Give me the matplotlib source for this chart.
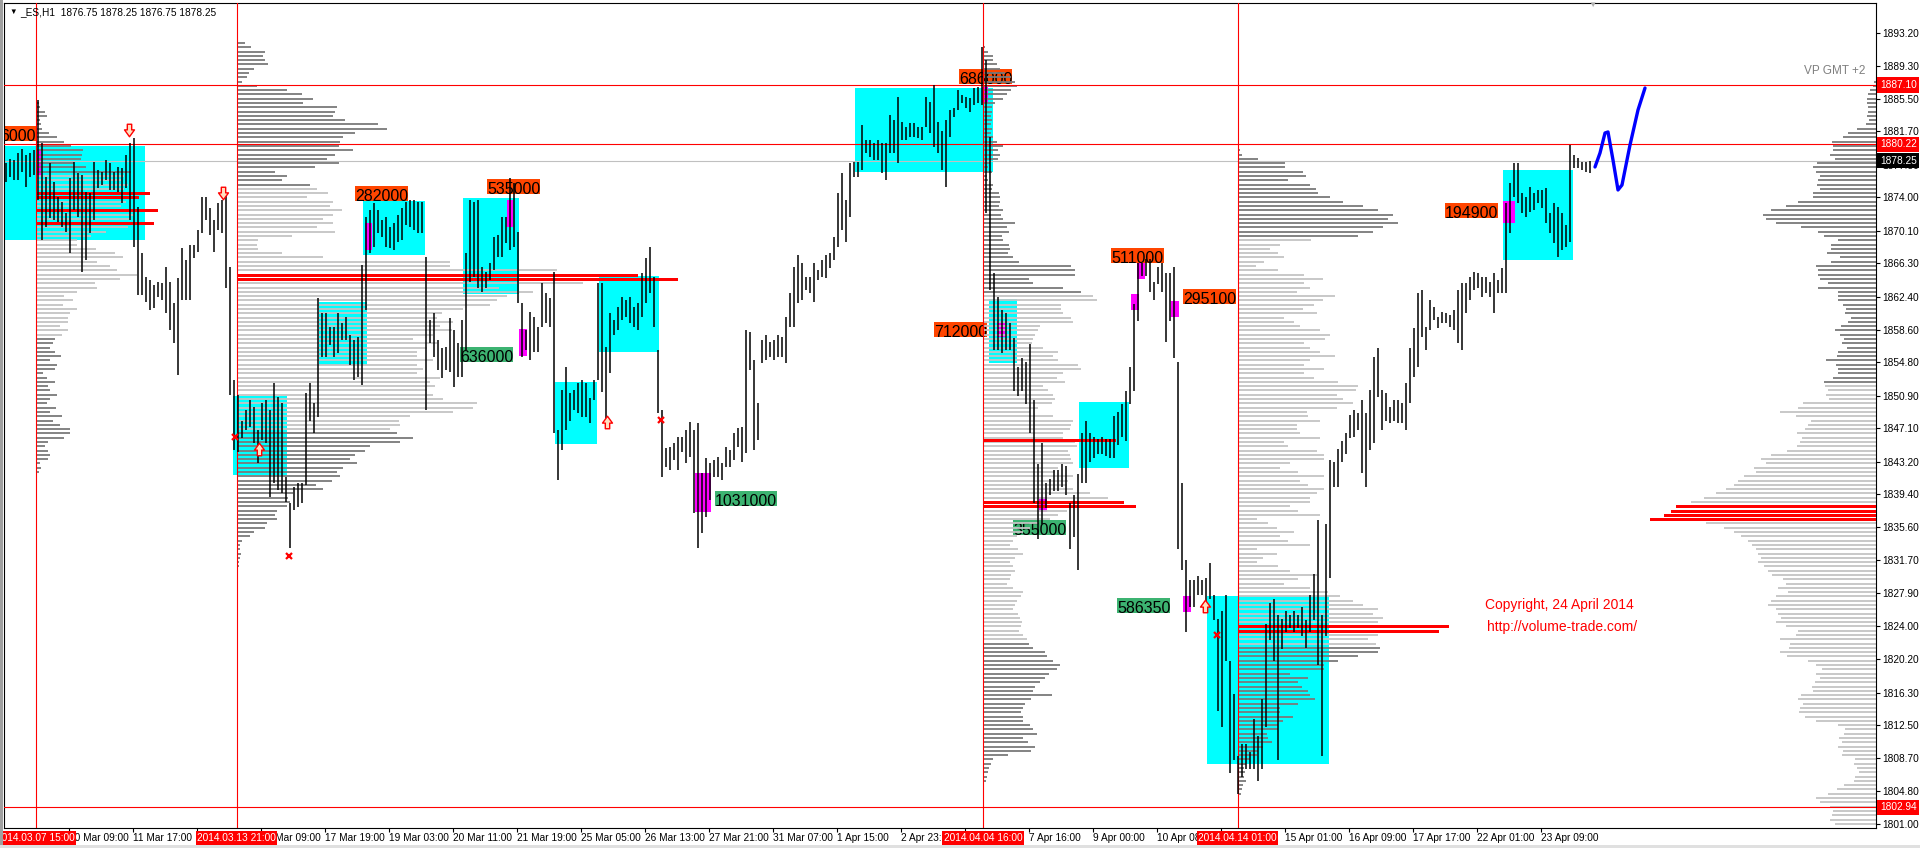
import numpy as np
import matplotlib
matplotlib.use("Agg")
import matplotlib.pyplot as plt
from matplotlib.patches import Rectangle
from matplotlib.path import Path

plt.rcParams['font.family'] = ['Liberation Sans', 'DejaVu Sans']

# ---------------------------------------------------------------- data
# 2-hour price bars (high / low), _ES H1 chart, 7 Mar - 24 Apr 2014
bar_high = [
 1878.0,1878.5,1878.4,1879.2,1879.7,1878.9,1879.2,1879.5,1885.3,1880.4,
 1876.4,1878.0,1875.8,1874.0,1873.5,1872.2,1876.3,1878.1,1876.8,1876.6,
 1874.6,1874.5,1878.1,1877.2,1877.0,1878.4,1878.0,1877.0,1877.5,1877.4,
 1878.9,1880.4,1880.9,1872.9,1867.5,1864.7,1864.4,1863.8,1864.1,1864.0,
 1865.9,1864.1,1861.7,1864.6,1868.1,1866.7,1868.4,1868.4,1870.2,1874.0,
 1874.0,1872.8,1871.4,1873.3,1873.7,1874.3,1865.9,1852.7,1851.0,1848.0,
 1849.2,1850.4,1849.6,1846.9,1850.0,1850.4,1849.2,1852.4,1850.7,1850.0,
 1841.4,1838.4,1840.2,1840.7,1840.7,1851.2,1852.4,1850.0,1862.3,1860.5,
 1860.5,1858.9,1858.9,1860.5,1859.4,1860.1,1858.0,1857.4,1857.7,1866.1,
 1871.7,1872.5,1873.3,1872.5,1871.4,1871.7,1870.5,1871.0,1871.9,1872.8,
 1873.5,1873.7,1873.7,1873.5,1873.5,1867.0,1859.7,1860.5,1857.4,1856.4,
 1856.6,1859.9,1858.5,1857.0,1859.7,1867.5,1873.7,1873.5,1873.7,1865.9,
 1865.3,1866.3,1869.4,1869.6,1871.7,1871.7,1876.3,1875.7,1870.0,1861.7,
 1858.5,1860.6,1860.1,1858.9,1864.0,1862.9,1862.3,1865.3,1846.9,1851.5,
 1854.2,1851.2,1851.5,1852.4,1852.7,1852.4,1850.6,1852.7,1864.0,1864.0,
 1856.6,1860.5,1859.7,1861.2,1862.4,1862.0,1862.4,1861.2,1861.7,1865.2,
 1866.9,1868.2,1864.7,1856.2,1849.2,1844.8,1844.9,1845.4,1846.1,1846.1,
 1846.9,1847.8,1846.9,1847.7,1841.9,1843.6,1843.0,1843.4,1843.7,1843.0,
 1844.9,1844.6,1846.6,1847.1,1847.2,1858.5,1858.3,1855.0,1850.1,1857.4,
 1858.0,1857.1,1857.4,1858.0,1857.7,1860.1,1862.9,1865.9,1867.3,1866.3,
 1864.7,1864.7,1866.3,1865.5,1866.7,1867.3,1867.5,1869.4,1874.5,1876.8,
 1873.7,1878.0,1878.1,1878.1,1882.4,1880.7,1880.7,1880.4,1880.7,1880.3,
 1880.3,1883.6,1883.0,1885.7,1882.8,1882.2,1882.7,1882.7,1882.2,1882.2,
 1885.7,1885.1,1887.1,1882.8,1881.8,1883.0,1884.2,1884.4,1886.5,1885.9,
 1885.7,1885.6,1886.7,1886.9,1891.5,1890.0,1881.0,1865.2,1862.4,1860.9,
 1860.5,1859.4,1857.6,1854.2,1855.3,1854.8,1856.9,1850.4,1842.9,1845.4,
 1840.7,1841.2,1842.2,1842.2,1842.9,1842.7,1838.4,1839.3,1841.8,1846.5,
 1848.0,1846.5,1846.1,1845.8,1846.1,1845.8,1845.8,1848.5,1849.0,1849.9,
 1851.4,1854.2,1861.6,1866.3,1866.3,1866.8,1866.8,1864.1,1865.9,1866.3,
 1865.2,1865.2,1865.9,1854.8,1840.7,1831.8,1829.4,1829.4,1829.9,1829.4,
 1829.6,1831.4,1827.7,1824.9,1825.8,1827.7,1820.0,1816.1,1808.9,1810.3,
 1810.3,1809.4,1813.2,1811.2,1815.6,1824.3,1826.7,1827.2,1825.3,1824.9,
 1825.8,1825.3,1825.8,1825.3,1826.3,1824.7,1827.7,1830.1,1836.4,1825.3,
 1835.9,1843.4,1843.2,1844.7,1845.6,1846.5,1848.6,1849.2,1848.9,1850.4,
 1848.9,1851.5,1855.4,1856.4,1851.5,1851.2,1849.6,1850.4,1850.4,1850.0,
 1852.4,1856.4,1858.8,1862.9,1863.2,1858.9,1862.0,1861.2,1860.1,1860.6,
 1860.5,1860.3,1860.9,1863.2,1864.0,1864.0,1864.7,1865.3,1865.2,1864.7,
 1864.7,1864.1,1865.2,1864.4,1865.8,1873.3,1875.7,1878.0,1878.0,1874.5,
 1874.0,1875.2,1874.5,1874.9,1874.9,1875.1,1872.2,1873.3,1872.9,1872.2,
 1870.8,1880.1,1878.9,1878.6,1878.1,1878.1,1878.25]
bar_low = [
 1875.8,1876.4,1876.0,1876.0,1877.0,1875.2,1876.4,1876.6,1873.7,1869.0,
 1870.5,1871.6,1871.4,1871.1,1870.5,1870.0,1867.5,1872.5,1871.7,1865.3,
 1866.7,1869.8,1871.4,1875.1,1875.4,1876.0,1874.9,1874.9,1874.6,1873.3,
 1875.1,1871.4,1868.2,1862.6,1862.6,1861.8,1860.9,1861.1,1862.4,1862.0,
 1860.5,1858.5,1857.0,1853.3,1862.0,1862.0,1862.0,1866.9,1867.6,1869.8,
 1871.4,1869.6,1867.6,1870.2,1869.8,1863.4,1851.0,1844.6,1844.3,1846.0,
 1846.9,1847.2,1845.4,1843.0,1845.7,1845.4,1839.1,1840.7,1839.9,1839.5,
 1838.5,1833.2,1837.6,1837.9,1838.4,1840.5,1848.0,1846.6,1848.4,1855.4,
 1855.4,1856.8,1855.4,1855.9,1857.4,1857.4,1854.5,1852.7,1853.1,1852.1,
 1860.9,1867.5,1868.2,1869.8,1869.4,1868.2,1868.1,1867.9,1868.8,1869.0,
 1870.8,1870.5,1870.2,1869.8,1869.8,1849.2,1857.0,1855.4,1853.9,1852.9,
 1853.9,1853.6,1851.9,1853.1,1853.1,1856.2,1864.1,1864.7,1863.5,1863.0,
 1863.5,1864.4,1865.5,1867.0,1867.0,1868.7,1867.9,1868.2,1861.7,1855.4,
 1856.2,1855.0,1856.0,1856.0,1858.9,1859.4,1858.9,1846.5,1841.1,1844.6,
 1846.9,1848.0,1849.2,1848.9,1848.4,1848.4,1847.7,1850.4,1852.7,1851.3,
 1847.2,1853.5,1858.0,1858.5,1859.7,1860.1,1859.4,1858.9,1858.5,1860.1,
 1861.7,1862.9,1858.9,1848.9,1841.4,1842.6,1842.2,1843.4,1842.2,1844.3,
 1843.0,1843.7,1837.2,1833.2,1834.9,1836.7,1838.7,1841.4,1841.4,1841.1,
 1842.6,1842.6,1843.4,1844.9,1843.2,1844.2,1853.9,1844.6,1845.7,1854.7,
 1855.0,1855.4,1855.0,1855.4,1855.4,1854.7,1858.9,1858.9,1861.7,1862.0,
 1863.2,1862.9,1861.8,1864.4,1864.7,1864.6,1865.8,1866.7,1868.2,1870.2,
 1868.8,1871.7,1876.4,1876.4,1877.2,1879.2,1878.7,1878.4,1878.4,1876.8,
 1876.0,1879.2,1879.2,1878.0,1880.7,1880.7,1881.0,1881.0,1880.9,1880.7,
 1882.2,1881.5,1879.9,1879.2,1877.2,1875.2,1881.0,1883.4,1884.2,1885.0,
 1884.4,1883.9,1884.8,1885.0,1884.8,1872.2,1863.2,1856.2,1856.2,1855.9,
 1856.2,1856.2,1851.4,1850.8,1851.4,1849.9,1846.5,1838.4,1834.2,1835.9,
 1837.8,1839.3,1839.8,1839.8,1840.2,1839.3,1833.0,1834.4,1830.6,1840.7,
 1840.7,1843.2,1843.6,1844.1,1844.1,1843.9,1843.6,1843.6,1845.1,1846.1,
 1845.6,1849.9,1851.4,1859.6,1864.9,1864.9,1863.0,1862.0,1863.9,1863.0,
 1857.1,1859.6,1855.3,1833.0,1830.6,1823.3,1826.3,1826.3,1827.7,1827.7,
 1826.7,1827.2,1824.7,1814.1,1812.3,1820.0,1806.9,1808.4,1804.5,1806.4,
 1807.4,1807.4,1807.4,1806.0,1807.4,1812.3,1822.4,1820.0,1808.4,1821.4,
 1823.3,1823.8,1823.3,1823.8,1822.9,1821.5,1823.3,1824.7,1819.5,1808.9,
 1822.9,1829.6,1840.2,1840.2,1843.2,1844.1,1846.0,1846.1,1846.9,1841.9,
 1840.2,1844.6,1845.4,1850.7,1846.9,1848.0,1847.7,1848.0,1847.7,1847.7,
 1846.9,1850.0,1853.1,1854.2,1857.7,1856.2,1858.5,1859.7,1858.8,1859.4,
 1859.4,1858.9,1858.5,1857.0,1856.2,1860.5,1862.0,1863.2,1863.5,1862.4,
 1862.9,1862.4,1860.5,1862.9,1862.9,1862.9,1869.8,1874.0,1873.3,1872.2,
 1871.7,1872.3,1872.5,1873.3,1872.8,1871.0,1869.8,1868.7,1867.0,1867.9,
 1868.2,1868.8,1877.4,1877.4,1877.2,1877.0,1876.8]

# volume profiles: volume per 0.5-point level, from top price downwards
vp1_anchor, vp1_top = 15.75, 1885.5
vp1_vol = [1,3,4,9,11,4,5,6,13,21, 28,35,47,46,45,38,50,95,88,85,
           92,88,113,102,90,85,121,98,95,117, 92,70,55,41,41,60,79,87,61,74,
           81,101,84,59,61,41,28,37,27,41, 34,32,32,24,32,26,19,17,14,19,
           25,14,21,19,7,11,19,12,14,21, 14,11,20,14,26,17,24,34,34,28,
           12,9,12,14,12,4,5,3,1]
vp1_dark = [(1877.0, 1890.0), (1830.0, 1857.5)]
vp1_poc = [1874.5, 1874.0, 1872.5, 1871.0]

vp2_anchor, vp2_top = 116.25, 1892.0
vp2_vol = [8,14,28,26,28,31,17,12,10,5, 20,50,65,76,66,100,98,96,108,141,
           150,118,106,103,102,116,98,90,102,78, 38,50,45,73,80,91,70,96,93,105,
           96,86,96,80,98,55,21,20,21,45, 86,213,213,320,400,440,346,262,296,270,
           260,253,226,205,200,216,203,215,196,176, 200,190,180,180,196,180,186,180,203,193,
           198,190,196,206,240,236,216,173,162,163, 153,160,176,163,133,128,118,113,120,106,
           100,103,95,79,86,56,51,53,50,40, 38,40,30,28,17,13,5,3,3,4, 3,2,2]
vp2_dark = [(1875.5, 1895.0), (1820.0, 1846.5)]
vp2_poc = [1865.0, 1864.5]

vp3_anchor, vp3_top = 489.6, 1891.5
vp3_vol = [2,5,10,10,14,17,22,28,32,34, 28,24,20,12,9,9,8,9,8,9,
           8,10,14,20,15,17,15,7,5,9, 4,5,10,9,16,17,17,16,20,18,
           20,32,24,26,19,20,26,27,25,30, 36,88,92,92,46,50,80,98,110,114,
           78,78,80,88,90,57,55,52,50,49, 60,75,70,75,95,98,80,74,82,60,
           65,70,72,69,55,47,70,90,88,87, 80,80,92,94,85,87,88,90,75,72,
           90,85,84,90,107,125,140,152,84,75, 67,55,47,40,34,30,27,35,40,32,
           27,30,32,28,27,24,30,40,38,34, 32,30,35,37,39,38,36,40,44,46,
           50,62,64,70,77,74,66,62,57,52, 50,69,48,42,40,38,40,40,47,50,
           54,40,45,52,48,25,10,8,6,5, 4,3]
vp3_dark = [(1863.0, 1895.0), (1800.0, 1822.0)]
vp3_poc = [1838.5, 1838.0]
vp3_extra_level = (1845.7, 489.6, 555.5)

vp4_anchor, vp4_top = 616.75, 1879.5
vp4_vol = [2,4,20,47,47,65,68,50,72,78, 80,92,105,125,140,155,150,160,145,135,
           120,73,42,32,40,46,26,18,40,66, 85,66,72,59,97,85,76,65,79,46,
           56,62,82,92,87,66,72,82,97,72, 66,86,66,76,100,120,118,99,105,115,
           99,69,70,82,59,59,62,82,46,50, 79,86,86,52,42,60,86,62,70,86,
           79,72,72,52,60,82,19,30,39,56, 42,50,72,19,39,25,19,40,52,79,
           60,46,72,90,102,115,125,140,135,145, 140,210,200,140,130,138,142,140,120,100,
           86,86,52,70,60,64,70,72,77,60, 42,42,55,45,40,40,29,30,34,25,
           20,19,12,8,6,7,6,8,5,4, 3]
vp4_dark = [(1869.5, 1895.0), (1800.0, 1821.5)]
vp4_poc = [1824.0, 1823.5]

vp5_top = 1887.5          # anchored on the right edge, grows leftwards
vp5_vol = [2,3,6,8,9,9,8,8,9,7, 10,19,28,33,44,43,43,46,41,59,
           63,60,56,58,59,56,63,63,78,90, 105,113,110,100,75,58,52,38,45,45,
           49,36,45,60,58,58,56,48,58,38, 38,38,33,30,31,25,28,35,41,36,
           32,34,29,38,39,50,40,38,38,43, 52,51,48,50,47,73,78,96,80,65,
           68,71,79,74,76,79,89,105,115,110, 122,120,132,138,142,150,160,172,185,200,
           205,212,226,170,152,142,135,128,124,120, 118,115,118,112,108,104,93,90,98,88,
           100,105,108,100,98,95,100,90,78,80, 96,86,87,96,89,68,60,54,60,56,
           61,64,63,75,78,73,76,77,71,60, 38,31,32,37,34,38,33,34,21,22,
           19,17,21,22,32,39,48,60,56,46, 43,44,46,41]
vp5_dark = [(1852.5, 1895.0)]
vp5_poc = [1838.0, 1837.5, 1837.0, 1836.5]

# zones (x0, x1 in bars; top, bottom price)
cyan_zones = [(-10, 70.5, 1879.99, 1869.04), (114.5, 141.5, 1850.85, 1841.65),
              (157.5, 181.5, 1861.81, 1854.47), (179.5, 210.5, 1873.58, 1867.29),
              (229.5, 257.5, 1873.93, 1862.74), (275.5, 296.5, 1852.49, 1845.26),
              (297.5, 327.5, 1864.84, 1855.98), (425.5, 494.5, 1886.75, 1876.96),
              (492.5, 506.5, 1862.16, 1854.70), (537.5, 562.5, 1850.16, 1842.46),
              (601.5, 662.5, 1827.54, 1807.97), (749.5, 784.5, 1877.20, 1866.71)]
magenta_zones = [(16, 18.5, 1879.64, 1876.38), (180.5, 184, 1871.02, 1867.87),
                 (251.5, 254.5, 1873.70, 1870.55), (257.5, 261.5, 1858.66, 1855.52),
                 (345.5, 353.5, 1841.88, 1837.34), (489, 492, 1886.87, 1885.01),
                 (496.5, 500.5, 1859.36, 1857.73), (517.5, 521.5, 1839.08, 1837.34),
                 (566.5, 570.5, 1866.36, 1864.49), (563.5, 567.5, 1862.74, 1860.88),
                 (583.5, 587.5, 1861.93, 1860.06), (589.5, 593.5, 1827.54, 1825.68),
                 (749.5, 755.5, 1873.58, 1871.02)]

vol_labels = [("6000", -2.0, 1882.32, "o"), ("282000", 175.5, 1875.33, "o"),
              ("535000", 241.5, 1876.15, "o"), ("636000", 228.0, 1856.57, "g"),
              ("1031000", 355.5, 1839.78, "g"), ("686000", 477.5, 1888.97, "o"),
              ("712000", 465.0, 1859.48, "o"), ("355000", 504.5, 1836.40, "g"),
              ("511000", 553.5, 1868.10, "o"), ("295100", 589.5, 1863.33, "o"),
              ("586350", 556.5, 1827.31, "g"), ("194900", 720.5, 1873.35, "o")]

down_arrows = [(62.5, 1881.86), (109.5, 1874.52)]
up_arrows = [(127.5, 1844.68), (301.5, 1847.83), (600.5, 1826.38)]
cross_marks = [(115.5, 1846.08), (142.5, 1832.21), (328.5, 1848.06), (606.5, 1823.00)]

proj_x = [795.5, 798, 800.5, 802, 804.5, 807, 809, 813, 817, 820.5]
proj_y = [1877.55, 1879.18, 1881.51, 1881.63, 1878.36, 1874.87, 1875.45, 1880.11, 1884.19, 1886.75]

level_lines = [(1887.10, "#FF0000"), (1880.22, "#FF0000"), (1802.94, "#FF0000")]
last_price = 1878.25
session_x = [15.75, 116.25, 489.6, 616.75]
session_labels = ["2014.03.07 15:00", "2014.03.13 21:00", "2014.04.04 16:00", "2014.04.14 01:00"]

price_ticks = [1893.20, 1889.30, 1885.50, 1881.70, 1877.80, 1874.00, 1870.10, 1866.30,
               1862.40, 1858.60, 1854.80, 1850.90, 1847.10, 1843.20, 1839.40, 1835.60,
               1831.70, 1827.90, 1824.00, 1820.20, 1816.30, 1812.50, 1808.70, 1804.80, 1801.00]
# labels fully hidden by the session boxes are left blank
time_labels = ["10 Mar 09:00", "11 Mar 17:00", "", "14 Mar 09:00", "17 Mar 19:00",
               "19 Mar 03:00", "20 Mar 11:00", "21 Mar 19:00", "25 Mar 05:00", "26 Mar 13:00",
               "27 Mar 21:00", "31 Mar 07:00", "1 Apr 15:00", "2 Apr 23:00", "",
               "7 Apr 16:00", "9 Apr 00:00", "10 Apr 08:00", "", "15 Apr 01:00",
               "16 Apr 09:00", "17 Apr 17:00", "22 Apr 01:00", "23 Apr 09:00"]
time_tick_first, time_tick_step = 32.5, 32

header = "_ES,H1  1876.75 1878.25 1876.75 1878.25"

# ---------------------------------------------------------------- layout / style
W, H, DPI = 1920, 848, 100
AX_L, AX_R, AX_T, AX_B = 4, 1876, 3, 828
X_MIN, X_MAX = 0, 936
Y_MIN, Y_MAX = 1800.51, 1896.66
PXX = (X_MAX - X_MIN) / (AX_R - AX_L)
PXY = (Y_MAX - Y_MIN) / (AX_B - AX_T)
VP_SCALE = 0.5
DARK, LIGHT, RED = "#7A7A7A", "#C4C4C4", "#FF0000"
CYAN, MAGENTA = "#00FFFF", "#FF00FF"
ORANGE, GREEN = "#FF4500", "#3CB371"
ROW_LW = 1.3
BAR_LW = 1.1

fig = plt.figure(figsize=(W / DPI, H / DPI), dpi=DPI)
fig.patch.set_facecolor("white")
ax = fig.add_axes([AX_L / W, (H - AX_B) / H, (AX_R - AX_L) / W, (AX_B - AX_T) / H])
ax.set_xlim(X_MIN, X_MAX)
ax.set_ylim(Y_MIN, Y_MAX)
ax.set_facecolor("white")
for s in ax.spines.values():
    s.set_linewidth(0.8)
    s.set_color("black")

# zones
for x0, x1, t, b in cyan_zones:
    ax.add_patch(Rectangle((x0, b), x1 - x0, t - b, fc=CYAN, ec="none", zorder=1.0))
for x0, x1, t, b in magenta_zones:
    ax.add_patch(Rectangle((x0, b), x1 - x0, t - b, fc=MAGENTA, ec="none", zorder=1.5))

# volume labels
for txt, x, ptop, c in vol_labels:
    col = ORANGE if c == "o" else GREEN
    wbox = len(txt) * 8.9 * PXX
    ax.add_patch(Rectangle((x, ptop - 15 * PXY), wbox, 15 * PXY, fc=col, ec="none", zorder=0.9))
    ax.text(x, ptop - 3 * PXY, txt, fontsize=11.5, color="black", ha="left", va="top",
            zorder=0.95, clip_on=True)


def draw_profile(anchor, top, vol, dark, poc, leftward=False):
    vol = np.asarray(vol, float)
    prices = top - 0.5 * np.arange(len(vol))
    lens = vol * VP_SCALE
    if leftward:
        x0 = anchor - lens
        x1 = np.full_like(lens, anchor)
    else:
        x0 = np.full_like(lens, anchor)
        x1 = anchor + lens
    is_dark = np.zeros(len(vol), bool)
    for lo, hi in dark:
        is_dark |= (prices >= lo - 1e-6) & (prices <= hi + 1e-6)
    is_poc = np.isin(np.round(prices, 2), np.round(poc, 2))
    cols = np.where(is_dark, DARK, LIGHT)
    m = ~is_poc
    ax.hlines(prices[m], x0[m], x1[m], colors=list(cols[m]), linewidth=ROW_LW, zorder=2,
              antialiased=True)
    ax.hlines(prices[is_poc], x0[is_poc], x1[is_poc], colors=RED, linewidth=0.75, zorder=2.6,
              antialiased=False)


draw_profile(vp1_anchor, vp1_top, vp1_vol, vp1_dark, vp1_poc)
draw_profile(vp2_anchor, vp2_top, vp2_vol, vp2_dark, vp2_poc)
draw_profile(vp3_anchor, vp3_top, vp3_vol, vp3_dark, vp3_poc)
draw_profile(vp4_anchor, vp4_top, vp4_vol, vp4_dark, vp4_poc)
draw_profile(X_MAX, vp5_top, vp5_vol, vp5_dark, vp5_poc, leftward=True)
ax.hlines([vp3_extra_level[0]], [vp3_extra_level[1]], [vp3_extra_level[2]], colors=RED,
          linewidth=0.75, zorder=2.6, antialiased=False)

# reference lines
ax.axhline(last_price, color="#C0C0C0", lw=0.8, zorder=1.8)
for p, c in level_lines:
    ax.axhline(p, color=c, lw=0.8, zorder=2.8)
for x in session_x:
    ax.axvline(x, color=RED, lw=0.8, zorder=2.8)

# price bars
bx = 2 * np.arange(len(bar_high)) + 1
ax.vlines(bx, bar_low, bar_high, colors="black", linewidth=BAR_LW, zorder=3, antialiased=True)

# arrows / marks
dn = Path([(-0.35, 1), (0.35, 1), (0.35, 0.1), (0.8, 0.1), (0, -1), (-0.8, 0.1), (-0.35, 0.1), (-0.35, 1)],
          [1, 2, 2, 2, 2, 2, 2, 79])
up = Path([(x, -y) for x, y in dn.vertices], dn.codes)
for (x, y) in down_arrows:
    ax.plot([x], [y], marker=dn, ms=9, mfc="#FFE0C0", mec=RED, mew=1.0, zorder=4)
for (x, y) in up_arrows:
    ax.plot([x], [y], marker=up, ms=9, mfc="#FFE0C0", mec=RED, mew=1.0, zorder=4)
for (x, y) in cross_marks:
    ax.plot([x], [y], marker="x", ms=4.5, mec=RED, mew=1.6, zorder=4)

# projection
ax.plot(proj_x, proj_y, color="#0000FF", lw=2.4, zorder=4, solid_capstyle="round")

# texts inside chart
ax.text((1865 - AX_L) * PXX, Y_MAX - (71 - AX_T) * PXY, "VP GMT +2", fontsize=8.5, color="#808080",
        ha="right", va="center", zorder=5)
ax.text(777.5, Y_MAX - (605 - AX_T) * PXY, "Copyright, 24 April 2014", fontsize=10, color=RED,
        ha="center", va="center", zorder=5)
ax.text(779.0, Y_MAX - (627 - AX_T) * PXY, "http://volume-trade.com/", fontsize=10, color=RED,
        ha="center", va="center", zorder=5)

# axes ticks
ax.yaxis.tick_right()
ax.set_yticks(price_ticks)
ax.set_yticklabels(["%.2f" % p for p in price_ticks])
xt = [time_tick_first + time_tick_step * i for i in range(len(time_labels))]
ax.set_xticks(xt)
ax.set_xticklabels(time_labels)
ax.tick_params(axis="y", which="both", direction="out", length=3, width=0.8, pad=1.5,
               labelsize=7.3, colors="black", left=False, right=True)
ax.tick_params(axis="x", which="both", direction="out", length=3, width=0.8, pad=0.5,
               labelsize=7.3, colors="black", top=False)
for lbl in ax.get_xticklabels():
    lbl.set_ha("left")

# right-axis price boxes
yax = ax.get_yaxis_transform()
for p, bg in [(1887.10, RED), (1880.22, RED), (last_price, "black"), (1802.94, RED)]:
    ax.text(1 + 4 / (AX_R - AX_L), p, "%.2f" % p, transform=yax, fontsize=7.3, color="white",
            ha="left", va="center", clip_on=False, zorder=10,
            bbox=dict(boxstyle="square,pad=0.25", fc=bg, ec="none"))

# bottom session boxes
xax = ax.get_xaxis_transform()
for x, lab in zip(session_x, session_labels):
    ax.text(x, -(838 - AX_B) / (AX_B - AX_T), lab, transform=xax, fontsize=7.3, color="white",
            ha="center", va="center", clip_on=False, zorder=10,
            bbox=dict(boxstyle="square,pad=0.15", fc=RED, ec="none"))

# header
fig.text(9 / W, 1 - 12 / H, "\u25BC", fontsize=5.5, ha="left", va="center", color="black")
fig.text(20 / W, 1 - 12 / H, header, fontsize=7.3, ha="left", va="center", color="black")
# chart shift marker
fig.text(1592 / W, 1 - 5 / H, "\u25BC", fontsize=6, ha="center", va="center", color="#B0B0B0")
# window borders
fig.patches.append(Rectangle((0, 0), 3 / W, 1, transform=fig.transFigure, fc="#A0A0A0", ec="none"))
fig.patches.append(Rectangle((0, 0), 1, 3 / H, transform=fig.transFigure, fc="#E0E0E0", ec="none"))

fig.savefig("out.png", dpi=DPI)
